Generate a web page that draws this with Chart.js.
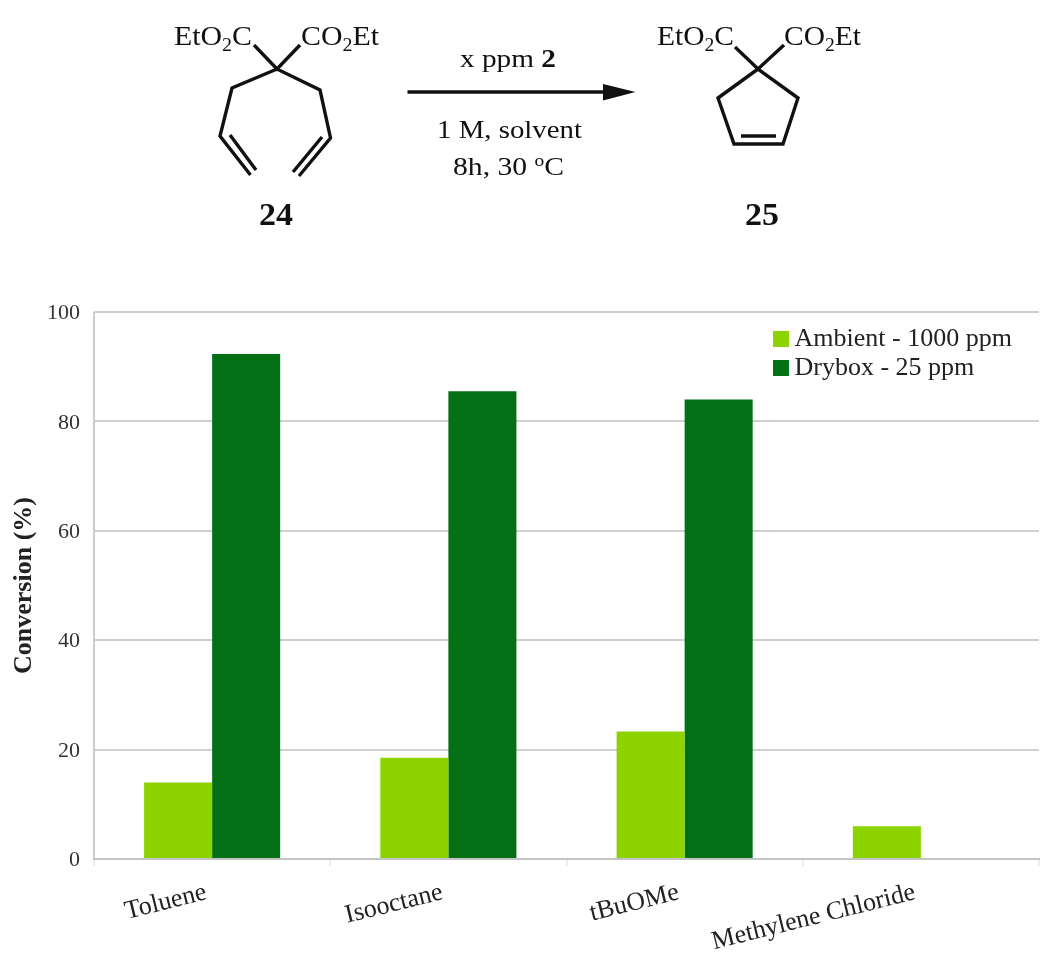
<!DOCTYPE html>
<html><head><meta charset="utf-8">
<script src="https://cdn.jsdelivr.net/npm/chart.js@4"></script>
<style>
html,body{margin:0;padding:0;background:#fff;width:1050px;height:974px;overflow:hidden}
#wrap{position:absolute;left:0;top:0;width:1050px;height:974px}
canvas{position:absolute;left:0;top:0;filter:blur(.5px)}
svg{position:absolute;left:0;top:0;filter:blur(.4px)}
svg text{font-family:"Liberation Serif",serif;fill:#111}
svg .b{stroke:#111;stroke-width:3.4;fill:none;stroke-linejoin:miter;stroke-linecap:butt}
</style></head><body>
<div id="wrap">
<canvas id="c" width="1050" height="974"></canvas>
<svg width="1050" height="240" viewBox="0 0 1050 240" xmlns="http://www.w3.org/2000/svg">
<polyline class="b" points="254,45 277,69 300,45"/>
<polyline class="b" points="250.5,175 220,136 232,88 277,69 320,90 330.5,138 299,176"/>
<line class="b" x1="230" y1="135" x2="256" y2="170"/>
<line class="b" x1="322" y1="137" x2="293" y2="172"/>
<polyline class="b" points="735,47 758,69 784,45"/>
<polygon class="b" points="758,69 718,98 734,144 783,144 798,98"/>
<line class="b" x1="741" y1="136" x2="776" y2="136"/>
<line class="b" x1="407.5" y1="92" x2="610" y2="92"/>
<polygon points="635.5,92 603,84 603,100.5" fill="#111"/>
<text x="174" y="45" font-size="27" textLength="78" lengthAdjust="spacingAndGlyphs">EtO<tspan font-size="18" dy="6">2</tspan><tspan dy="-6">C</tspan></text>
<text x="301" y="45" font-size="27" textLength="78" lengthAdjust="spacingAndGlyphs">CO<tspan font-size="18" dy="6">2</tspan><tspan dy="-6">Et</tspan></text>
<text x="657" y="45" font-size="27" textLength="77" lengthAdjust="spacingAndGlyphs">EtO<tspan font-size="18" dy="6">2</tspan><tspan dy="-6">C</tspan></text>
<text x="784" y="45" font-size="27" textLength="77" lengthAdjust="spacingAndGlyphs">CO<tspan font-size="18" dy="6">2</tspan><tspan dy="-6">Et</tspan></text>
<text x="460" y="67" font-size="26" textLength="96" lengthAdjust="spacingAndGlyphs">x ppm <tspan font-weight="bold">2</tspan></text>
<text x="437" y="138" font-size="26" textLength="145" lengthAdjust="spacingAndGlyphs">1 M, solvent</text>
<text x="453" y="175" font-size="26" textLength="111" lengthAdjust="spacingAndGlyphs">8h, 30 <tspan font-size="17" dy="-9">o</tspan><tspan dy="9">C</tspan></text>
<text x="259" y="225" font-size="31" font-weight="bold" textLength="34" lengthAdjust="spacingAndGlyphs">24</text>
<text x="745" y="225" font-size="31" font-weight="bold" textLength="34" lengthAdjust="spacingAndGlyphs">25</text>
</svg>
</div>
<script>
const categories = ["Toluene", "Isooctane", "tBuOMe", "Methylene Chloride"];
const ambient = [14, 18.5, 23.3, 6];
const drybox = [92.3, 85.5, 84, 0];
const seriesNames = ["Ambient - 1000 ppm", "Drybox - 25 ppm"];
const yTicks = [0, 20, 40, 60, 80, 100];
const colors = ["#8cd300", "#037016"];
const FONT = '"Liberation Serif", serif';

const placeLegend = {
  id: 'placeLegend',
  afterLayout(chart) {
    const l = chart.legend;
    l.left = 777.5; l.right = 1030; l.top = 323; l.bottom = 387;
    l.draw = function () { this._draw(); };
  }
};

new Chart(document.getElementById('c'), {
  type: 'bar',
  data: {
    labels: categories,
    datasets: [
      { label: seriesNames[0], data: ambient, backgroundColor: colors[0], categoryPercentage: 0.576, barPercentage: 1 },
      { label: seriesNames[1], data: drybox, backgroundColor: colors[1], categoryPercentage: 0.576, barPercentage: 1 }
    ]
  },
  options: {
    responsive: false,
    animation: false,
    layout: { padding: { top: 312, right: 11, left: 0, bottom: 0 } },
    plugins: {
      tooltip: { enabled: false },
      legend: {
        position: 'chartArea',
        align: 'start',
        labels: {
          color: '#222',
          font: { family: FONT, size: 26 },
          boxWidth: 1, boxHeight: 1, padding: 3,
          generateLabels: () => seriesNames.map((t, i) => ({
            text: t, fillStyle: colors[i], strokeStyle: colors[i], lineWidth: 15, datasetIndex: i, fontColor: '#222'
          }))
        }
      }
    },
    scales: {
      x: {
        afterFit(s) { s.height = 974 - 859; },
        grid: {
          offset: true,
          color: c => (c.index === 0 || c.index === categories.length) ? '#cccccc' : 'transparent',
          tickColor: '#ececec', tickLength: 7, lineWidth: 2
        },
        border: { display: true, color: '#c4c4c4', width: 2 },
        ticks: {
          color: '#222', font: { family: FONT, size: 26 },
          minRotation: 14, maxRotation: 14, labelOffset: -6, padding: 11, autoSkip: false
        }
      },
      y: {
        min: 0, max: 100,
        afterFit(s) { s.width = 94; },
        afterBuildTicks(s) { s.ticks = yTicks.map(v => ({ value: v })); },
        grid: { color: '#cfcfcf', lineWidth: 2, drawTicks: false },
        border: { display: false },
        ticks: { color: '#333', font: { family: FONT, size: 22 }, padding: 14, labelOffset: 1.5 },
        title: { display: true, text: 'Conversion (%)', color: '#222', font: { family: FONT, size: 26, weight: 'bold' }, padding: { top: 9, bottom: 0 } }
      }
    }
  },
  plugins: [placeLegend]
});
</script>
</body></html>
